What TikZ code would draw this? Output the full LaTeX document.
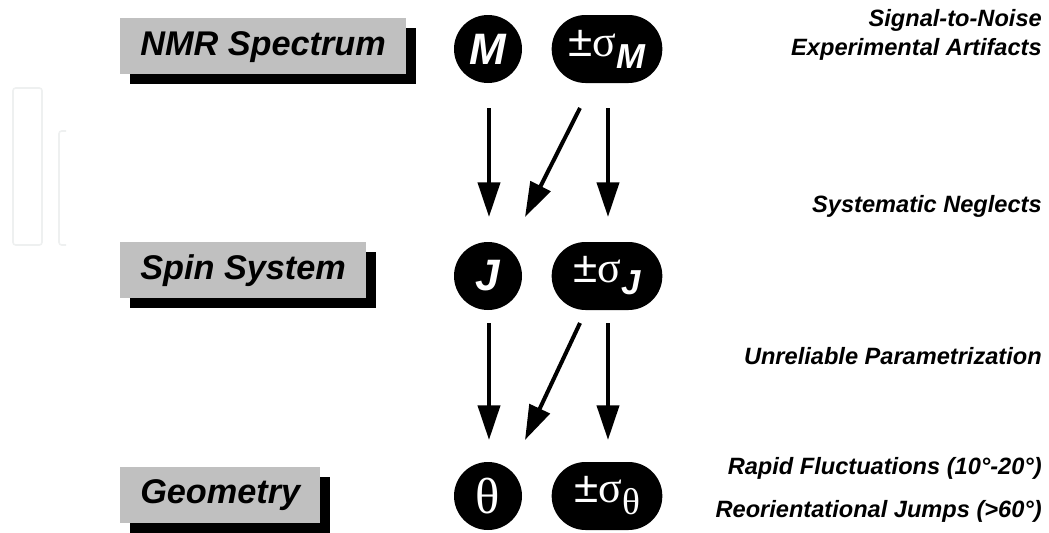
\documentclass[tikz,border=0pt]{standalone}
\usepackage{fontspec}
\setmainfont{Liberation Sans}
\newfontfamily\greekfont{Liberation Serif}
\usetikzlibrary{arrows.meta,shadows}
\definecolor{boxgray}{HTML}{C0C0C0}
\definecolor{wmgray}{HTML}{EEF0F0}
\begin{document}
\begin{tikzpicture}[x=0.75pt,y=-0.75pt,
  labelbox/.style={fill=boxgray, anchor=west, inner xsep=15pt, inner ysep=0pt,
    minimum height=42pt, text height=18.5pt, text depth=5pt,
    font=\fontsize{25.7pt}{30pt}\selectfont\bfseries\itshape,
    drop shadow={shadow xshift=7.5pt, shadow yshift=-7.5pt, fill=black, opacity=1}},
  valcircle/.style={circle, fill=black, inner sep=0pt, minimum size=51pt, text=white},
  errpill/.style={rectangle, rounded corners=25.4pt, fill=black, inner sep=0pt,
    minimum width=83pt, minimum height=51pt, text=white},
  note/.style={anchor=east, inner sep=0pt, font=\fontsize{17.7pt}{21pt}\selectfont\bfseries\itshape},
  flow/.style={line width=3pt, -{Triangle[width=16.5pt,length=26pt]}},
  wm/.style={draw=wmgray, line width=1.2pt, rounded corners=2pt}
]
\useasboundingbox (0,0) rectangle (1049,532);
% faint background marks
\draw[wm] (13,88) rectangle (42,245);
\draw[wm] (66,131) -- (59,131) -- (59,245) -- (66,245);
% level labels
\node[labelbox] (spec) at (120,46) {NMR Spectrum};
\node[labelbox] (spin) at (120,270) {Spin System};
\node[labelbox] (geom) at (120,494.5) {Geometry};
% values and errors
\node[valcircle] (M) at (488,49) {\fontsize{33pt}{36pt}\selectfont\bfseries\itshape M};
\node[errpill] (sM) at (607,49) {\fontsize{33pt}{36pt}\selectfont ±\greekfont σ\raisebox{-9pt}{\fontsize{26pt}{28pt}\selectfont\rmfamily\bfseries\itshape M}};
\node[valcircle] (J) at (488,276) {\fontsize{33pt}{36pt}\selectfont\bfseries\itshape J};
\node[errpill] (sJ) at (607,276) {\fontsize{33pt}{36pt}\selectfont ±\greekfont σ\raisebox{-9pt}{\fontsize{26pt}{28pt}\selectfont\rmfamily\bfseries\itshape J}};
\node[valcircle] (T) at (488,496) {\fontsize{38pt}{41pt}\selectfont\greekfont θ};
\node[errpill] (sT) at (607,496) {\fontsize{33pt}{36pt}\selectfont ±\greekfont σ\raisebox{-9pt}{\fontsize{28pt}{30pt}\selectfont θ}};
% arrow end points
\coordinate (a1) at (489,108); \coordinate (b1) at (489,217);
\coordinate (c1) at (580,108); \coordinate (d1) at (525,217);
\coordinate (e1) at (608,108); \coordinate (f1) at (608,217);
\coordinate (a2) at (489,323); \coordinate (b2) at (489,440);
\coordinate (c2) at (580,323); \coordinate (d2) at (525,440);
\coordinate (e2) at (608,323); \coordinate (f2) at (608,440);
\draw[flow] (a1) -- (b1);
\draw[flow] (c1) -- (d1);
\draw[flow] (e1) -- (f1);
\draw[flow] (a2) -- (b2);
\draw[flow] (c2) -- (d2);
\draw[flow] (e2) -- (f2);
% notes
\node[note] (n1) at (1042,20) {Signal-to-Noise};
\node[note] (n2) at (1042,49) {Experimental Artifacts};
\node[note] (n3) at (1042,206) {Systematic Neglects};
\node[note] (n4) at (1042,356) {Unreliable Parametrization};
\node[note] (n5) at (1042,468) {Rapid Fluctuations (10°-20°)};
\node[note] (n6) at (1042,511) {Reorientational Jumps (>60°)};
\end{tikzpicture}
\end{document}
